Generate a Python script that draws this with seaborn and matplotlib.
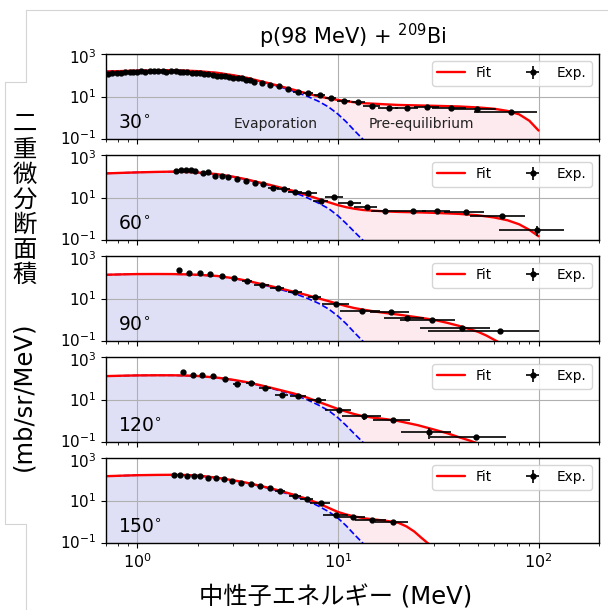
import matplotlib
matplotlib.use("Agg")
import matplotlib.pyplot as plt
import seaborn as sns
from matplotlib.lines import Line2D
from matplotlib import transforms, ticker

# ------------------------------------------------------------------ data
angles = ["30", "60", "90", "120", "150"]
title_text = "p(98 MeV) + $^{209}$Bi"
xlabel_text = "中性子エネルギー (MeV)"
ylabel_jp = "二重微分断面積"
ylabel_unit = "(mb/sr/MeV)"

# common energy grid for the evaporation component (blue dashed)
evap_E = [0.7, 0.85, 1.0, 1.25, 1.5, 1.75, 2.0, 2.5, 3.0, 3.5, 4.0, 4.5, 5.0,
          6.0, 7.0, 8.0, 9.0, 10.0, 11.0, 12.0, 13.3, 14.0]
evap_30 = [150, 158, 165, 170, 170, 164, 155, 130, 100, 75, 54, 41, 31,
           18, 10.5, 6.0, 3.2, 1.5, 0.65, 0.27, 0.1, 0.06]
evap_60 = [136, 145, 152, 160, 164, 158, 150, 125, 95, 70, 51, 39, 30,
           18, 10, 5.5, 3.0, 1.4, 0.6, 0.26, 0.1, 0.06]
evap_90 = [131, 137, 141, 142, 140, 136, 130, 114, 90, 68, 50, 38, 29,
           18, 10.5, 6.0, 3.2, 1.5, 0.65, 0.27, 0.1, 0.06]
evap_120 = [126, 132, 136, 138, 137, 133, 127, 106, 84, 64, 48, 36, 28,
            17, 10, 5.5, 3.0, 1.4, 0.6, 0.26, 0.1, 0.06]
evap_150 = [139, 148, 155, 160, 162, 157, 148, 117, 89, 67, 50, 38, 29,
            17, 10, 5.5, 3.0, 1.5, 0.65, 0.27, 0.1, 0.06]

# total fit (red); first 22 energies equal evap_E
fit_E_30 = evap_E + [15, 17.5, 20, 25, 30, 40, 50, 60, 70, 80, 90, 100]
fit_30 = [150, 158, 165, 170, 171, 165, 156, 131, 101, 77, 56, 43, 33,
          21, 14, 10.2, 8.2, 6.9, 6.0, 5.4, 4.9, 4.75,
          4.6, 4.25, 4.0, 3.8, 3.65, 3.4, 3.05, 2.65, 2.1, 1.45, 0.72, 0.25]
fit_E_60 = evap_E + [15, 17.5, 20, 25, 30, 40, 50, 60, 70, 80, 90, 100]
fit_60 = [136, 145, 152, 160, 165, 159, 151, 126, 96, 72, 53, 41, 32,
          20.5, 13, 8.6, 6.0, 4.4, 3.5, 3.0, 2.6, 2.5,
          2.4, 2.2, 2.1, 2.0, 1.9, 1.7, 1.45, 1.15, 0.85, 0.55, 0.3, 0.15]
fit_E_90 = evap_E + [15, 17.5, 20, 25, 30, 35, 40, 50, 55, 60, 63]
fit_90 = [131, 137, 141, 142, 141, 137, 131, 115, 91, 70, 52, 41, 32,
          21, 14.5, 10.2, 7.5, 5.6, 4.4, 3.6, 3.0, 2.8,
          2.5, 2.05, 1.75, 1.3, 1.0, 0.72, 0.52, 0.27, 0.18, 0.115, 0.09]
fit_E_120 = evap_E + [15, 17.5, 20, 25, 30, 35, 40, 45, 49]
fit_120 = [126, 132, 136, 138, 138, 134, 128, 107, 85, 66, 50, 38.5, 30,
           19.5, 12.5, 7.8, 5.2, 3.6, 2.7, 2.1, 1.65, 1.55,
           1.4, 1.18, 0.97, 0.62, 0.39, 0.26, 0.17, 0.12, 0.09]
fit_E_150 = evap_E + [15, 17.5, 20, 22, 24, 26, 28, 29]
fit_150 = [139, 148, 155, 160, 162, 158, 149, 118, 90, 69, 52, 40, 31,
           19, 12, 7.4, 4.5, 2.9, 2.2, 1.8, 1.5, 1.4,
           1.3, 1.1, 0.9, 0.6, 0.35, 0.18, 0.1, 0.08]

# experimental points
exp_E_30 = [0.716, 0.75, 0.79, 0.83, 0.87, 0.92, 0.955, 1.0, 1.05, 1.1, 1.16,
            1.22, 1.27, 1.34, 1.40, 1.48, 1.56, 1.63, 1.70, 1.78, 1.87, 1.96,
            2.06, 2.15, 2.26, 2.38, 2.49, 2.61, 2.74, 2.88, 3.02, 3.17, 3.32,
            3.49, 3.66, 3.83, 4.18, 4.6, 5.07, 5.62, 6.31, 7.14, 8.13, 9.2,
            10.7, 12.6, 14.8, 17.9, 22.2, 27.9, 36.5, 49.6, 72.7]
exp_y_30 = [120, 129, 129, 129, 139, 150, 150, 139, 155, 150, 155,
            165, 155, 155, 145, 155, 155, 145, 135, 135, 130, 125,
            122, 120, 112, 104, 96, 96, 90, 83, 77, 77, 72,
            62, 58, 50, 43, 35, 30, 22, 17, 14.4, 11.6, 8.7,
            6.2, 5.4, 3.7, 2.9, 3.0, 3.1, 2.8, 2.5, 1.9]
exp_dx_30 = [0] * 40 + [0.3, 0.4, 0.5, 0.6, 0.8, 1.0, 1.5, 2.0, 3.0, 4.0,
                        7.0, 12.0, 25.0]
exp_dy_30 = [0] * 46 + [0.3, 0.2, 0.2, 0.2, 0.2, 0.2, 0.2]

exp_E_60 = [1.56, 1.65, 1.75, 1.85, 1.94, 2.12, 2.26, 2.45, 2.64, 2.85, 3.14,
            3.49, 3.87, 4.26, 4.78, 5.37, 6.14, 7.1, 8.2, 9.6, 11.5, 13.9,
            17.1, 23.6, 31.3, 43.7, 65.8, 98.5]
exp_y_60 = [180, 190, 200, 190, 170, 135, 152, 100, 100, 88, 76,
            62, 50, 42, 27, 24, 18, 16, 7.0, 10.5, 5.5, 3.4,
            2.2, 2.2, 2.2, 2.0, 1.4, 0.3]
exp_dx_60 = [0] * 14 + [0.3, 0.4, 0.5, 0.8, 0.7, 1.0, 1.5, 1.8,
                        2.5, 4.0, 5.0, 10.0, 20.0, 35.0]
exp_dy_60 = [0] * 26 + [0.15, 0.15]

exp_E_90 = [1.62, 1.82, 2.05, 2.31, 2.64, 3.04, 3.54, 4.17, 5.01, 6.14, 7.67,
            9.84, 13.2, 18.5, 22.0, 29.4, 41.6, 64.1]
exp_y_90 = [218, 163, 151, 135, 110, 88, 68, 41, 30, 20, 12.4,
            5.4, 2.5, 2.4, 1.17, 0.95, 0.43, 0.29]
exp_dx_90 = [0, 0, 0, 0, 0, 0, 0.2, 0.35, 0.4, 0.5, 0.6,
             1.5, 3.0, 4.0, 5.0, 9.0, 16.0, 36.0]
exp_dy_90 = [0] * 14 + [0.25, 0.15, 0.08, 0.05]

exp_E_120 = [1.69, 1.89, 2.11, 2.39, 2.73, 3.15, 3.68, 4.34, 5.26, 6.36, 7.94,
             10.1, 13.5, 18.9, 28.6, 48.8]
exp_y_120 = [195, 136, 147, 126, 88, 55, 63, 35, 17, 14, 9.6,
             3.2, 1.6, 1.13, 0.29, 0.17]
exp_dx_120 = [0, 0, 0, 0, 0, 0.15, 0.2, 0.3, 0.4, 0.6, 0.8,
              1.5, 3.0, 4.0, 8.0, 20.0]
exp_dy_120 = [0] * 11 + [0.4, 0.5, 0.15, 0.15, 0.05]

exp_E_150 = [1.53, 1.64, 1.77, 1.91, 2.06, 2.26, 2.47, 2.70, 2.97, 3.29, 3.68,
             4.11, 4.6, 5.14, 6.14, 7.0, 8.2, 9.84, 11.9, 14.8, 18.9]
exp_y_150 = [155, 155, 148, 148, 139, 120, 112, 103, 85, 70, 60,
             46, 37, 28, 16.7, 12, 7.5, 2.0, 1.7, 1.2, 0.93]
exp_dx_150 = [0] * 13 + [0.3, 0.4, 0.5, 0.9, 1.4, 1.8, 2.6, 3.5]
exp_dy_150 = [0] * 17 + [0.4, 0.3, 0.3, 0.2]

panels = [
    (angles[0], fit_E_30, fit_30, evap_30, exp_E_30, exp_y_30, exp_dx_30, exp_dy_30),
    (angles[1], fit_E_60, fit_60, evap_60, exp_E_60, exp_y_60, exp_dx_60, exp_dy_60),
    (angles[2], fit_E_90, fit_90, evap_90, exp_E_90, exp_y_90, exp_dx_90, exp_dy_90),
    (angles[3], fit_E_120, fit_120, evap_120, exp_E_120, exp_y_120, exp_dx_120, exp_dy_120),
    (angles[4], fit_E_150, fit_150, evap_150, exp_E_150, exp_y_150, exp_dx_150, exp_dy_150),
]

# ------------------------------------------------------------------ style
sns.set_theme(context="notebook", style="ticks", rc={
    "axes.edgecolor": "black",
    "axes.linewidth": 1.0,
    "axes.axisbelow": "line",
    "axes.labelcolor": "black",
    "text.color": "black",
    "xtick.color": "black",
    "ytick.color": "black",
    "xtick.direction": "out",
    "ytick.direction": "out",
    "xtick.major.size": 3.5,
    "xtick.minor.size": 2.0,
    "ytick.major.size": 3.5,
    "xtick.major.width": 0.8,
    "xtick.minor.width": 0.6,
    "ytick.major.width": 0.8,
    "xtick.labelsize": 11.5,
    "ytick.labelsize": 11,
    "grid.color": "#b0b0b0",
    "grid.linewidth": 0.8,
    "legend.fontsize": 9.8,
})
plt.rcParams["font.family"] = ["DejaVu Sans", "Noto Sans CJK JP"]

W, H = 608, 610
fig = plt.figure(figsize=(W / 100, H / 100), dpi=100)
axes = fig.subplots(5, 1, sharex=True, gridspec_kw=dict(
    left=106 / W, right=599 / W, top=1 - 54 / H, bottom=1 - 543 / H,
    hspace=16 / 85))

BLUE_FILL = "#dfe0f5"
PINK_FILL = "#fdeaee"

for i, (ang, fE, fY, eY, xE, xY, xdx, xdy) in enumerate(panels):
    ax = axes[i]
    ax.set_xscale("log")
    ax.set_yscale("log")
    ax.set_xlim(0.7, 200)
    ax.set_ylim(0.1, 1000)

    ax.fill_between(fE, 1e-3, fY, color=PINK_FILL, lw=0, zorder=1)
    ax.fill_between(evap_E, 1e-3, eY, color=BLUE_FILL, lw=0, zorder=1.1)

    sns.lineplot(x=evap_E, y=eY, ax=ax, color="blue", linewidth=1.2,
                 linestyle="--", estimator=None, sort=False, legend=False,
                 zorder=2)
    sns.lineplot(x=fE, y=fY, ax=ax, color="red", linewidth=1.7,
                 estimator=None, sort=False, legend=False, zorder=2.2)
    eb = ax.errorbar(xE, xY, xerr=xdx, yerr=xdy, fmt="o", color="black",
                     ms=3.5, elinewidth=1.2, capsize=0, zorder=3)

    ax.set_yticks([0.1, 10, 1000])
    ax.yaxis.set_minor_locator(ticker.NullLocator())
    ax.grid(True, which="major", axis="both")

    # nudge the edge tick labels apart so neighbouring panels don't collide
    ylabels = ax.yaxis.get_majorticklabels()
    up = transforms.ScaledTranslation(0, 1.6 / 72, fig.dpi_scale_trans)
    down = transforms.ScaledTranslation(0, -1.6 / 72, fig.dpi_scale_trans)
    ylabels[0].set_transform(ylabels[0].get_transform() + up)
    ylabels[-1].set_transform(ylabels[-1].get_transform() + down)

    fit_handle = Line2D([], [], color="red", lw=1.7)
    ax.legend([fit_handle, eb], ["Fit", "Exp."], loc="upper right", ncol=2,
              fontsize=9.8, framealpha=0.8, edgecolor="0.8", fancybox=True)

    ax.text(0.025, 0.13, ang + r"$^{\circ}$", transform=ax.transAxes,
            fontsize=13.5, ha="left", va="baseline")

    if i == 0:
        ax.set_title(title_text, fontsize=15, pad=7)
        tr = transforms.blended_transform_factory(ax.transData, ax.transAxes)
        ax.text(4.9, 0.127, "Evaporation", transform=tr, fontsize=10,
                ha="center", va="baseline", color="#222222")
        ax.text(26.1, 0.127, "Pre-equilibrium", transform=tr, fontsize=10,
                ha="center", va="baseline", color="#222222")

# x label
fig.text(336 / W, 1 - 597 / H, xlabel_text, ha="center", va="center",
         fontsize=17.5)

# vertical Japanese y label (upright characters) + rotated unit
for k, ch in enumerate(ylabel_jp):
    fig.text(25 / W, 1 - (125 + 25 * k) / H, ch, ha="center", va="center",
             fontsize=17.5, family=["Noto Sans CJK JP", "DejaVu Sans"])
fig.text(23 / W, 1 - 396 / H, ylabel_unit, rotation=90, ha="center",
         va="center", fontsize=17.5)

# light frame lines around the pasted label area
frame_px = [(608, 10), (26.5, 10), (26.5, 82), (5, 82), (5, 524),
            (26.5, 524), (26.5, 610)]
fig.add_artist(Line2D([p[0] / W for p in frame_px],
                      [1 - p[1] / H for p in frame_px],
                      transform=fig.transFigure, color="#d4d4d4", lw=0.8))

fig.savefig("out.png", dpi=100)
